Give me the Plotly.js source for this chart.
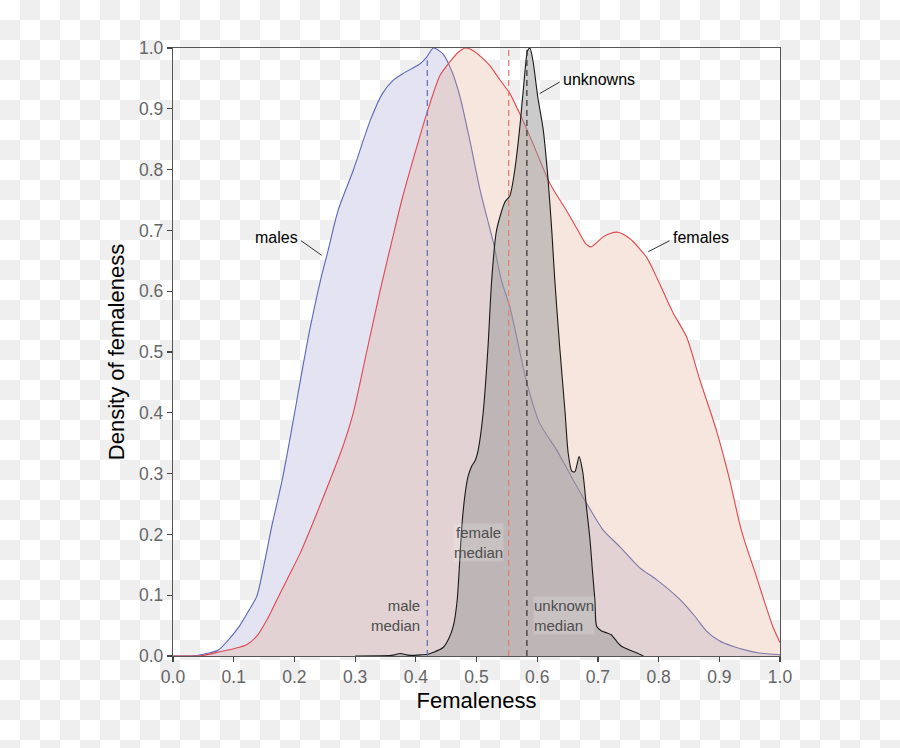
<!DOCTYPE html>
<html>
<head>
<meta charset="utf-8">
<script src="https://cdn.plot.ly/plotly-3.0.1.min.js"></script>
<style>
html,body{margin:0;padding:0;}
body{width:900px;height:748px;background:repeating-conic-gradient(#efefef 0% 25%, #ffffff 0% 50%) 0 0/40px 40px;}
#chart{width:900px;height:748px;}
</style>
</head>
<body>
<div id="chart"></div>
<script>
// ---- data ----
const maleX = [0.00,0.03,0.05,0.075,0.09,0.11,0.125,0.138,0.15,0.162,0.18,0.195,0.21,0.225,0.243,0.255,0.272,0.297,0.325,0.345,0.363,0.379,0.407,0.418,0.429,0.445,0.46,0.473,0.489,0.506,0.528,0.541,0.555,0.583,0.604,0.632,0.659,0.685,0.708,0.736,0.769,0.796,0.835,0.86,0.879,0.9,0.922,0.95,0.966,1.0];
const maleY = [0,0.000,0.003,0.010,0.025,0.05,0.075,0.098,0.15,0.21,0.29,0.37,0.454,0.535,0.618,0.665,0.733,0.799,0.881,0.925,0.947,0.958,0.974,0.985,1.0,0.99,0.96,0.919,0.848,0.766,0.679,0.618,0.574,0.449,0.383,0.339,0.29,0.245,0.208,0.18,0.145,0.126,0.093,0.065,0.041,0.025,0.016,0.008,0.005,0.002];

const femaleX = [0.0,0.04,0.05,0.073,0.1,0.122,0.14,0.155,0.17,0.188,0.21,0.229,0.259,0.28,0.297,0.319,0.341,0.36,0.377,0.398,0.418,0.44,0.456,0.47,0.482,0.494,0.508,0.522,0.539,0.555,0.574,0.593,0.621,0.648,0.67,0.68,0.689,0.698,0.708,0.72,0.733,0.752,0.78,0.799,0.824,0.846,0.868,0.895,0.917,0.936,0.961,0.988,1.0];
const femaleY = [0,0.000,0.001,0.006,0.012,0.019,0.035,0.06,0.09,0.126,0.17,0.215,0.29,0.345,0.40,0.50,0.60,0.68,0.75,0.825,0.892,0.955,0.977,0.993,1.0,0.996,0.985,0.971,0.947,0.925,0.886,0.843,0.777,0.733,0.695,0.678,0.673,0.68,0.689,0.695,0.697,0.687,0.656,0.618,0.564,0.525,0.454,0.372,0.29,0.208,0.131,0.049,0.022];

const unknownX = [0.30,0.36,0.374,0.39,0.41,0.42,0.429,0.445,0.455,0.462,0.468,0.472,0.476,0.481,0.486,0.492,0.498,0.503,0.511,0.519,0.525,0.533,0.547,0.555,0.563,0.572,0.58,0.584,0.588,0.593,0.601,0.61,0.618,0.624,0.629,0.637,0.646,0.651,0.657,0.662,0.669,0.675,0.681,0.687,0.691,0.695,0.698,0.706,0.715,0.722,0.731,0.739,0.752,0.769,0.775];
const unknownY = [0,0.001,0.004,0.001,0.002,0.003,0.006,0.014,0.03,0.05,0.09,0.15,0.215,0.265,0.295,0.312,0.322,0.34,0.40,0.509,0.618,0.70,0.747,0.757,0.799,0.876,0.963,0.995,1.0,0.979,0.919,0.865,0.782,0.70,0.618,0.509,0.40,0.334,0.304,0.303,0.328,0.303,0.246,0.191,0.14,0.093,0.049,0.041,0.038,0.035,0.024,0.016,0.01,0.003,0];

const groupNames = ["males","females","unknowns"];
const medianNames = ["male","female","unknown"];
const medianX = [0.419, 0.553, 0.583];
const medianTop = [0.98, 1.0, 1.0];
const tickVals = [0,0.1,0.2,0.3,0.4,0.5,0.6,0.7,0.8,0.9,1.0];
const tickText = tickVals.map(v => v.toFixed(1));

// ---- styles ----
const FONT = "Liberation Sans, Arial, Helvetica, sans-serif";
const series = [
  {x: maleX, y: maleY, line: "#5b67b8", fill: "rgba(115,115,185,0.2)"},
  {x: femaleX, y: femaleY, line: "#e0474f", fill: "rgba(223,166,137,0.28)"},
  {x: unknownX, y: unknownY, line: "#1a1a1a", fill: "rgba(151,151,151,0.5)"}
];
const medianColors = ["#6b73b5", "#e4806e", "#3a3a3a"];

const traces = [];
// opaque white bases so the fills hide the transparency checkerboard
series.forEach(s => traces.push({
  x: s.x, y: s.y, type: "scatter", mode: "lines",
  line: {width: 0, shape: "spline", smoothing: 0.7},
  fill: "tozeroy", fillcolor: "#ffffff", hoverinfo: "skip", showlegend: false
}));
series.forEach((s, i) => traces.push({
  x: s.x, y: s.y, type: "scatter", mode: "lines", name: groupNames[i],
  line: {width: 1.1, color: s.line, shape: "spline", smoothing: 0.7},
  fill: "tozeroy", fillcolor: s.fill, hoverinfo: "skip", showlegend: false
}));
// median dashed lines
medianX.forEach((m, i) => traces.push({
  x: [m, m], y: [0, medianTop[i]], type: "scatter", mode: "lines",
  line: {width: 1.3, color: medianColors[i], dash: "6px,4px"},
  hoverinfo: "skip", showlegend: false
}));

const annotations = [];
const shapes = [];
// group labels with leader lines
const groupLabelCfg = [
  {x: 0.209, y: 0.688, xanchor: "right", lx: [0.211, 0.245], ly: [0.683, 0.659]},
  {x: 0.821, y: 0.688, xanchor: "left",  lx: [0.818, 0.783], ly: [0.683, 0.665]},
  {x: 0.640, y: 0.948, xanchor: "left",  lx: [0.637, 0.604], ly: [0.944, 0.925]}
];
groupLabelCfg.forEach((c, i) => {
  annotations.push({x: c.x, y: c.y, xref: "x", yref: "y", text: groupNames[i],
    showarrow: false, xanchor: c.xanchor, yanchor: "middle",
    font: {family: FONT, size: 16, color: "#000"}});
  shapes.push({type: "line", xref: "x", yref: "y", x0: c.lx[0], y0: c.ly[0], x1: c.lx[1], y1: c.ly[1],
    line: {color: "#333", width: 1}});
});
// median labels (two lines each, one text block)
const medianLabelCfg = [
  {x: 0.408, y: 0.0665, xanchor: "right", align: "right", bg: "rgba(0,0,0,0)"},
  {x: 0.504, y: 0.186, xanchor: "center", align: "center", bg: "rgba(255,255,255,0.18)"},
  {x: 0.593, y: 0.0665, xanchor: "left", align: "left", bg: "rgba(255,255,255,0.18)"}
];
medianLabelCfg.forEach((c, i) => {
  annotations.push({x: c.x, y: c.y, xref: "x", yref: "y",
    text: medianNames[i] + "<br>median", showarrow: false,
    xanchor: c.xanchor, yanchor: "middle", align: c.align,
    bgcolor: c.bg, borderpad: 0,
    font: {family: FONT, size: 15, color: "#4d4d4d"}});
});

const axisCommon = {
  range: [0, 1], showgrid: false, zeroline: false,
  showline: true, linecolor: "#555", linewidth: 1.2, mirror: true,
  ticks: "outside", ticklen: 5, tickwidth: 1.2, tickcolor: "#444",
  tickvals: tickVals, ticktext: tickText,
  tickfont: {family: FONT, size: 17.5, color: "#666"}
};

const layout = {
  width: 900, height: 748,
  margin: {l: 172.5, r: 119.5, t: 47.5, b: 91.5},
  paper_bgcolor: "rgba(0,0,0,0)", plot_bgcolor: "rgba(0,0,0,0)",
  font: {family: FONT},
  showlegend: false,
  xaxis: Object.assign({}, axisCommon, {
    title: {text: "Femaleness", font: {family: FONT, size: 22, color: "#000"}, standoff: 6}
  }),
  yaxis: Object.assign({}, axisCommon, {
    title: {text: "Density of femaleness", font: {family: FONT, size: 22, color: "#000"}, standoff: 8}
  }),
  annotations: annotations,
  shapes: shapes
};

Plotly.newPlot("chart", traces, layout, {staticPlot: true, displayModeBar: false});
</script>
</body>
</html>
